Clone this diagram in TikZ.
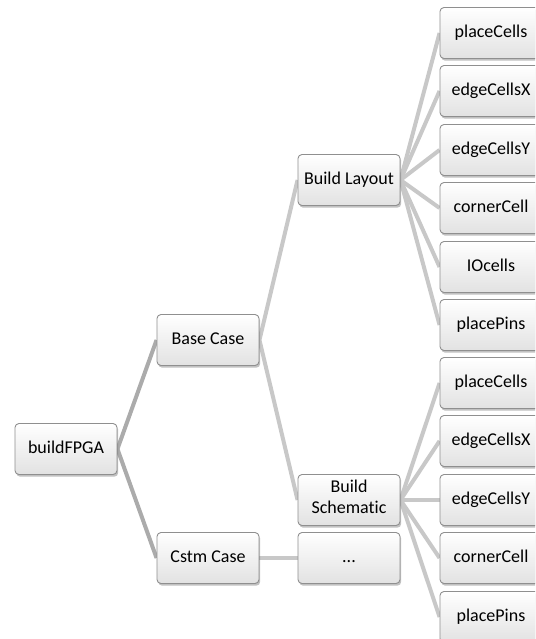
\documentclass[tikz,border=0pt]{standalone}
\usepackage{fontspec}
\setmainfont[Ligatures=NoCommon]{Carlito}
\usetikzlibrary{shadows,backgrounds}
\definecolor{boxline}{HTML}{8F8F8F}
\definecolor{boxbot}{HTML}{E2E2E2}
\definecolor{linkdark}{HTML}{ABABAB}
\definecolor{linklight}{HTML}{C8C8C8}
\tikzset{
  card/.style={draw=boxline, line width=0.9pt, rounded corners=4pt,
    top color=white, bottom color=boxbot,
    minimum width=102pt, minimum height=51pt, inner sep=2pt,
    align=center, font=\fontsize{18}{21}\selectfont,
    execute at begin node=\strut,
    drop shadow={shadow xshift=1.2pt, shadow yshift=-2.2pt, opacity=0.35, fill=black!70}},
  linkA/.style={draw=linkdark, line width=4pt},
  linkB/.style={draw=linklight, line width=4pt},
}
\begin{document}
\begin{tikzpicture}[x=1pt,y=-1pt]
\path[use as bounding box, clip] (0,0) rectangle (535,639);
% root and first level
\node[card] (root) at (66,449) {buildFPGA};
\node[card] (base) at (208,340) {Base Case};
\node[card] (cstm) at (208,558) {Cstm Case};
% second level
\node[card] (layout) at (349,180) {Build Layout};
\node[card] (schem) at (349,500) {Build\\\strut Schematic};
\node[card] (more) at (349,558) {...};
% leaves of Build Layout
\node[card] (l1) at (491,33) {placeCells};
\node[card] (l2) at (491,91) {edgeCellsX};
\node[card] (l3) at (491,150) {edgeCellsY};
\node[card] (l4) at (491,208) {cornerCell};
\node[card] (l5) at (491,267) {IOcells};
\node[card] (l6) at (491,325) {placePins};
% leaves of Build Schematic
\node[card] (s1) at (491,383) {placeCells};
\node[card] (s2) at (491,441) {edgeCellsX};
\node[card] (s3) at (491,500) {edgeCellsY};
\node[card] (s4) at (491,558) {cornerCell};
\node[card] (s5) at (491,617) {placePins};
% connectors
\begin{scope}[on background layer]
\draw[linkA] (root.east) -- (base.west);
\draw[linkA] (root.east) -- (cstm.west);
\draw[linkB] (base.east) -- (layout.west);
\draw[linkB] (base.east) -- (schem.west);
\draw[linkB] (cstm.east) -- (more.west);
\foreach \n in {l1,l2,l3,l4,l5,l6}
  \draw[linkB] (layout.east) -- (\n.west);
\foreach \n in {s1,s2,s3,s4,s5}
  \draw[linkB] (schem.east) -- (\n.west);
\end{scope}
\end{tikzpicture}
\end{document}
